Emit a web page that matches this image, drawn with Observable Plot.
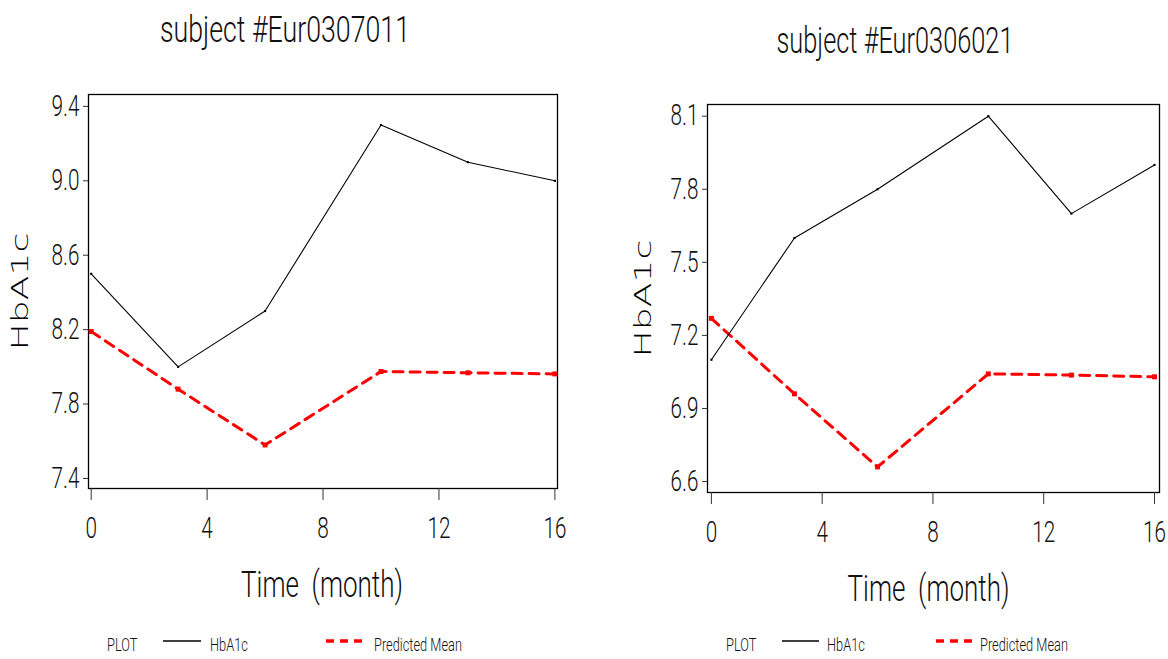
<!DOCTYPE html>
<html>
<head>
<meta charset="utf-8">
<script src="https://cdn.jsdelivr.net/npm/d3@7"></script>
<script src="https://cdn.jsdelivr.net/npm/@observablehq/plot@0.6"></script>
<style>
html, body { margin: 0; padding: 0; background: #fff; }
#root { position: relative; width: 1168px; height: 659px; overflow: hidden;
  font-family: Roboto, "DejaVu Sans Condensed", "Liberation Sans", sans-serif; font-weight: 300; color: #000; }
.panel { position: absolute; top: 80px; width: 584px; height: 540px; }
.panel svg text { white-space: pre; font-weight: 300; }
.title { position: absolute; font-size: 36px; line-height: 36px; white-space: pre; color: #111; }
.leg { position: absolute; top: 636px; font-size: 18px; line-height: 18px; white-space: pre;
  transform-origin: left center; color: #111; }
</style>
</head>
<body>
<div id="root"></div>
<script>
// ---- data ----
const months = [0, 3, 6, 10, 13, 16];
const titles = ["subject #Eur0307011", "subject #Eur0306021"];
const hbaLeft = [8.5, 8.0, 8.3, 9.3, 9.1, 9.0];
const predLeft = [8.19, 7.88, 7.58, 7.975, 7.968, 7.962];
const hbaRight = [7.1, 7.6, 7.8, 8.1, 7.7, 7.9];
const predRight = [7.27, 6.96, 6.66, 7.042, 7.037, 7.03];
const xTicks = [0, 4, 8, 12, 16];
const yTicksLeft = [7.4, 7.8, 8.2, 8.6, 9.0, 9.4];
const yTicksRight = [6.6, 6.9, 7.2, 7.5, 7.8, 8.1];
const xLabel = "Time  (month)";
const yLabel = "HbA1c";
const legendHead = "PLOT";
const seriesNames = ["HbA1c", "Predicted Mean"];

const root = document.getElementById("root");
const FONT = "Roboto, 'DejaVu Sans Condensed', 'Liberation Sans', sans-serif";

function panel({hba, pred, yTicks, xDomain, yDomain, margins, yLabelDx, xLabelDx}) {
  const obs = months.map((m, i) => ({m, v: hba[i]}));
  const pm = months.map((m, i) => ({m, v: pred[i]}));
  return Plot.plot({
    width: 584, height: 540,
    ...margins,
    style: {background: "transparent", color: "#000", fontFamily: FONT, overflow: "visible"},
    x: {domain: xDomain},
    y: {domain: yDomain},
    marks: [
      Plot.frame({stroke: "#000", strokeWidth: 1.3}),
      Plot.axisX({ticks: xTicks, tickFormat: d => String(d), tickSize: 12, tickPadding: 17, fontSize: 29, label: null, stroke: "#333", fill: "#111"}),
      Plot.axisY({ticks: yTicks, tickFormat: d3.format(".1f"), tickSize: 5, tickPadding: 4, fontSize: 29, label: null, stroke: "#333", fill: "#111"}),
      Plot.line(pm, {x: "m", y: "v", stroke: "#ff0000", strokeWidth: 3, strokeDasharray: "10,7"}),
      Plot.line(obs, {x: "m", y: "v", stroke: "#000", strokeWidth: 1.1}),
      Plot.dot(pm, {x: "m", y: "v", symbol: "square", r: 2.8, fill: "#ff0000"}),
      Plot.dot(obs, {x: "m", y: "v", symbol: "square", r: 1.2, fill: "#000"}),
      Plot.text([xLabel], {text: d => d, frameAnchor: "bottom", textAnchor: "middle", dy: 97, dx: xLabelDx, fontSize: 37, lineAnchor: "middle", fill: "#111"}),
      Plot.text([yLabel], {text: d => d, frameAnchor: "left", textAnchor: "middle", rotate: -90, dx: yLabelDx, fontSize: 23, lineAnchor: "middle", fill: "#000", fontFamily: "'DejaVu Sans', sans-serif"})
    ]
  });
}

const configs = [
  {left: 0, title: titles[0], titleX: 285, titleTop: 12, titleW: 250,
   hba: hbaLeft, pred: predLeft, yTicks: yTicksLeft,
   xDomain: [-0.093, 16.09], yDomain: [7.346, 9.464],
   margins: {marginTop: 14, marginBottom: 132, marginLeft: 88, marginRight: 27},
   yLabelDx: -68, xLabelDx: -1,
   leg: {plot: 107, line: [163, 201], s1: 210, dash: [326, 362], s2: 374}},
  {left: 584, title: titles[1], titleX: 895, titleTop: 23, titleW: 237,
   hba: hbaRight, pred: predRight, yTicks: yTicksRight,
   xDomain: [-0.14, 16.18], yDomain: [6.555, 8.148],
   margins: {marginTop: 24, marginBottom: 128, marginLeft: 123, marginRight: 9},
   yLabelDx: -64, xLabelDx: -5,
   leg: {plot: 726, line: [782, 819], s1: 827, dash: [936, 972], s2: 980}}
];

const titleEls = [], legEls = [], svgs = [];
const ns = "http://www.w3.org/2000/svg";

for (const c of configs) {
  const t = document.createElement("div");
  t.className = "title";
  t.style.left = c.titleX + "px";
  t.style.top = c.titleTop + "px";
  t.textContent = c.title;
  t.dataset.w = c.titleW;
  root.appendChild(t);
  titleEls.push(t);

  const p = document.createElement("div");
  p.className = "panel";
  p.style.left = c.left + "px";
  const svg = panel(c);
  p.appendChild(svg);
  root.appendChild(p);
  svgs.push(svg);

  const mk = (txt, x) => {
    const d = document.createElement("div");
    d.className = "leg"; d.style.left = x + "px"; d.textContent = txt; root.appendChild(d);
    legEls.push(d);
  };
  mk(legendHead, c.leg.plot);
  mk(seriesNames[0], c.leg.s1);
  mk(seriesNames[1], c.leg.s2);
  const sw = (x0, x1, stroke, width, dash) => {
    const s = document.createElementNS(ns, "svg");
    s.setAttribute("width", x1 - x0); s.setAttribute("height", 10);
    s.style.left = x0 + "px"; s.style.top = "636px"; s.style.position = "absolute";
    const l = document.createElementNS(ns, "line");
    l.setAttribute("x1", 0); l.setAttribute("x2", x1 - x0);
    l.setAttribute("y1", 5); l.setAttribute("y2", 5);
    l.setAttribute("stroke", stroke); l.setAttribute("stroke-width", width);
    if (dash) l.setAttribute("stroke-dasharray", dash);
    s.appendChild(l); root.appendChild(s);
  };
  sw(c.leg.line[0], c.leg.line[1], "#000", 1.3, null);
  sw(c.leg.dash[0], c.leg.dash[1], "#ff0000", 3.5, "8,6");
}

// ---- condense / stretch text to match the original's narrow plotter font ----
function fit() {
  titleEls.forEach(t => {
    const k = +t.dataset.w / t.getBoundingClientRect().width;
    t.style.transform = `translateX(-50%) scaleX(${k})`;
  });
  const lw = legEls[2].getBoundingClientRect().width;
  const kl = 88 / lw;
  legEls.forEach(d => { d.style.transform = `scaleX(${kl})`; });
  const all = svgs.flatMap(s => Array.from(s.querySelectorAll("text")));
  let kTick = 0.75, kTime = 0.75, kY = 1.4;
  for (const t of all) {
    const s = t.textContent;
    const len = t.getComputedTextLength();
    if (s === "9.4") kTick = 28 / len;
    if (s === xLabel) kTime = 162 / len;
    if (s === yLabel) kY = 118 / len;
  }
  for (const t of all) {
    const s = t.textContent;
    const k = s === yLabel ? kY : s === xLabel ? kTime : kTick;
    const tr = t.getAttribute("transform");
    if (tr) t.setAttribute("transform", tr + ` scale(${k},1)`);
  }
}
fit();
</script>
</body>
</html>
